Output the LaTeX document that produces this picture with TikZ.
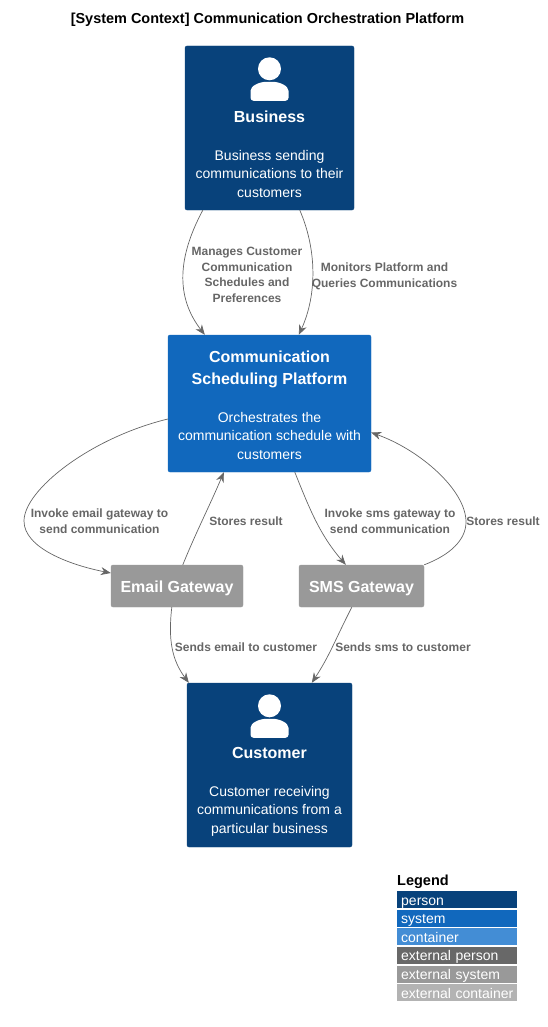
\documentclass[tikz,border=0pt]{standalone}
\usepackage{fontspec}
\setmainfont{Liberation Sans}
\usetikzlibrary{arrows.meta}
\definecolor{personblue}{HTML}{08427B}
\definecolor{systemblue}{HTML}{1168BD}
\definecolor{containerblue}{HTML}{438DD5}
\definecolor{extperson}{HTML}{686868}
\definecolor{extsystem}{HTML}{999999}
\definecolor{extcontainer}{HTML}{B3B3B3}
\definecolor{linegrey}{HTML}{666666}
\tikzset{
  box/.style={rounded corners=2pt,draw=#1,fill=#1,text=white,align=center,inner sep=0pt,font=\fontsize{14}{18.5}\selectfont},
  gatewaybox/.style={box=extsystem,minimum height=42pt,text height=15.5pt,text depth=3.5pt,font=\fontsize{16}{20}\selectfont\bfseries},
  rel/.style={draw=linegrey,line width=.7pt,-{Stealth[length=10pt,width=8pt]}},
  rellabel/.style={text=linegrey,align=center,inner sep=0pt,font=\fontsize{12}{15.7}\selectfont\bfseries},
  legendrow/.style={fill=#1,text=white,anchor=west,inner sep=0pt,minimum height=17pt,text width=120pt,align=left,text height=13pt,text depth=2pt,execute at begin node=\hspace*{4pt},font=\fontsize{14}{14}\selectfont}
}
\newcommand{\boxtitle}[1]{{\fontsize{16}{20.5}\selectfont\bfseries #1}}
\newcommand{\personicon}[1]{
  \fill[white,shift={(#1.north)}] (0,23) circle (11.5pt);
  \fill[white,shift={(#1.north)},rounded corners=3pt] (-19,55) -- (-19,48) .. controls (-19,40) and (-10,36) .. (0,36) .. controls (10,36) and (19,40) .. (19,48) -- (19,55) -- cycle;
}
\begin{document}
\begin{tikzpicture}[x=1pt,y=-1pt]
  \useasboundingbox (0,0) rectangle (547,1027);
  \node[font=\fontsize{14.45}{16}\selectfont\bfseries,inner sep=0pt] (title) at (267.5,20) {[System Context] Communication Orchestration Platform};
  % boxes
  \node[box=personblue,minimum width=169pt,minimum height=164pt] (business) at (269.5,128)
    {\rule{0pt}{50pt}\\[-4pt]\boxtitle{Business}\\[19pt]Business sending\\communications to their\\customers};
  \node[box=systemblue,minimum width=203pt,minimum height=137pt] (platform) at (269.5,403.5)
    {\rule{0pt}{15.6pt}\boxtitle{Communication}\\[3.5pt]\boxtitle{Scheduling Platform}\\[19pt]Orchestrates the\\communication schedule with\\customers};
  \node[gatewaybox,minimum width=132pt] (email) at (177,586) {Email Gateway};
  \node[gatewaybox,minimum width=125pt] (sms) at (361.5,586) {SMS Gateway};
  \node[box=personblue,minimum width=165pt,minimum height=164pt] (customer) at (269.5,765)
    {\rule{0pt}{50pt}\\[-4pt]\boxtitle{Customer}\\[19pt]Customer receiving\\communications from a\\particular business};
  \personicon{business}
  \personicon{customer}
  % connectors
  \draw[rel] ([xshift=18pt]business.south west) .. controls (175,262) and (178,300) .. ([xshift=37pt]platform.north west);
  \draw[rel] ([xshift=115pt]business.south west) .. controls (317,250) and (317,295) .. ([xshift=131pt]platform.north west);
  \draw[rel] ([yshift=-15.5pt]platform.west) .. controls (90,438) and (24,490) .. (24,521) .. controls (24,548) and (70,565) .. ([yshift=13pt]email.west);
  \draw[rel] ([xshift=72pt]email.north west) .. controls (197,530) and (210,505) .. ([xshift=56pt]platform.south west);
  \draw[rel] ([xshift=127pt]platform.south west) .. controls (310,510) and (320,535) .. ([xshift=47pt]sms.north west);
  \draw[rel] (sms.north east) .. controls (450,555) and (466,540) .. (466,522) .. controls (466,490) and (420,450) .. ([yshift=-29pt]platform.east);
  \draw[rel] ([xshift=61pt]email.south west) .. controls (168,640) and (172,660) .. ([xshift=2pt]customer.north west);
  \draw[rel] ([xshift=53pt]sms.south west) .. controls (335,640) and (330,655) .. ([xshift=125pt]customer.north west);
  % labels
  \node[rellabel] (manages) at (247,275) {Manages Customer\\Communication\\Schedules and\\Preferences};
  \node[rellabel] (monitors) at (384.5,276) {Monitors Platform and\\Queries Communications};
  \node[rellabel] (invokemail) at (99.5,521) {Invoke email gateway to\\send communication};
  \node[rellabel] (storesmail) at (246,521) {Stores result};
  \node[rellabel] (invokesms) at (390,521) {Invoke sms gateway to\\send communication};
  \node[rellabel] (storessms) at (503,521) {Stores result};
  \node[rellabel] (sendsmail) at (246,647) {Sends email to customer};
  \node[rellabel] (sendssms) at (403,647) {Sends sms to customer};
  % legend
  \node[font=\fontsize{14.5}{16}\selectfont\bfseries,anchor=west,inner sep=0pt] (legend) at (397,882) {Legend};
  \node[legendrow=personblue] (lperson) at (397,899.5) {person};
  \node[legendrow=systemblue] (lsystem) at (397,918) {system};
  \node[legendrow=containerblue] (lcontainer) at (397,936.5) {container};
  \node[legendrow=extperson] (lextperson) at (397,955) {external person};
  \node[legendrow=extsystem] (lextsystem) at (397,974) {external system};
  \node[legendrow=extcontainer] (lextcontainer) at (397,992.5) {external container};
\end{tikzpicture}
\end{document}
